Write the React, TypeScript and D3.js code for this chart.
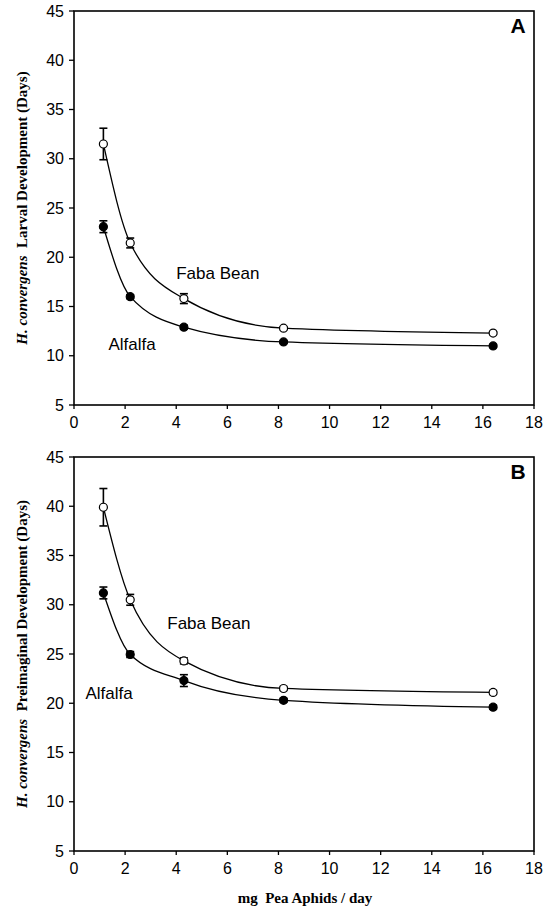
import React from 'react';
import * as d3 from 'd3';

// dose levels (mg pea aphids / day)
const doses = [1.15, 2.2, 4.3, 8.2, 16.4];

// panel A - larval development (days)
const larvalFaba = [31.5, 21.45, 15.8, 12.8, 12.3];
const larvalFabaErr = [1.6, 0.5, 0.5, 0.15, 0.15];
const larvalAlfalfa = [23.1, 16.0, 12.9, 11.4, 11.0];
const larvalAlfalfaErr = [0.6, 0.2, 0.2, 0.15, 0.15];

// panel B - preimaginal development (days)
const preFaba = [39.9, 30.5, 24.3, 21.5, 21.1];
const preFabaErr = [1.9, 0.55, 0.3, 0.2, 0.2];
const preAlfalfa = [31.2, 24.95, 22.3, 20.3, 19.6];
const preAlfalfaErr = [0.6, 0.3, 0.6, 0.2, 0.2];

const xTicks = [0, 2, 4, 6, 8, 10, 12, 14, 16, 18];
const yTicks = [5, 10, 15, 20, 25, 30, 35, 40, 45];

const LEFT = 74;
const RIGHT = 534;
const PANEL_H = 394;
const SANS = '"Liberation Sans", Arial, sans-serif';
const SERIF = '"Liberation Serif", "Times New Roman", serif';

type Series = { y: number[]; err: number[]; filled: boolean };

function Panel({ top, letter, title, series, fabaPos, alfPos }: {
    top: number; letter: string; title: string; series: Series[];
    fabaPos: [number, number]; alfPos: [number, number];
}) {
    const x = d3.scaleLinear().domain([0, 18]).range([LEFT, RIGHT]);
    const y = d3.scaleLinear().domain([5, 45]).range([top + PANEL_H, top]);

    const line = d3.line<number>()
        .x((d, i) => x(doses[i]))
        .y(d => y(d))
        .curve(d3.curveMonotoneX);

    return (
        <g>
            {series.map((s, k) => (
                <path key={'l' + k} d={line(s.y) || ''} fill="none" stroke="#000" strokeWidth={1.3} />
            ))}
            {series.map((s, k) => s.y.map((v, i) => {
                const cx = x(doses[i]);
                const y1 = y(v + s.err[i]);
                const y2 = y(v - s.err[i]);
                return (
                    <g key={'e' + k + '-' + i} stroke="#000" strokeWidth={1.6}>
                        <line x1={cx} x2={cx} y1={y1} y2={y2} />
                        <line x1={cx - 4} x2={cx + 4} y1={y1} y2={y1} />
                        <line x1={cx - 4} x2={cx + 4} y1={y2} y2={y2} />
                    </g>
                );
            }))}
            {series.map((s, k) => s.y.map((v, i) => (
                <circle key={'p' + k + '-' + i} cx={x(doses[i])} cy={y(v)} r={4}
                    fill={s.filled ? '#000' : '#fff'} stroke="#000" strokeWidth={1.2} />
            )))}

            <rect x={LEFT} y={top} width={RIGHT - LEFT} height={PANEL_H}
                fill="none" stroke="#000" strokeWidth={1.6} />

            {yTicks.map(t => (
                <g key={'yt' + t}>
                    <line x1={LEFT - 5} x2={LEFT} y1={y(t)} y2={y(t)} stroke="#000" strokeWidth={1.3} />
                    <text x={LEFT - 10} y={y(t)} dy="0.35em" textAnchor="end"
                        fontFamily={SANS} fontSize={16}>{t}</text>
                </g>
            ))}
            {xTicks.map(t => (
                <g key={'xt' + t}>
                    <line x1={x(t)} x2={x(t)} y1={top + PANEL_H} y2={top + PANEL_H + 4} stroke="#000" strokeWidth={1.3} />
                    <text x={x(t)} y={top + PANEL_H + 23} textAnchor="middle"
                        fontFamily={SANS} fontSize={16}>{t}</text>
                </g>
            ))}

            <text x={x(fabaPos[0])} y={y(fabaPos[1])} dy="0.35em" fontFamily={SANS} fontSize={17}>Faba Bean</text>
            <text x={x(alfPos[0])} y={y(alfPos[1])} dy="0.35em" fontFamily={SANS} fontSize={17}>Alfalfa</text>
            <text x={RIGHT - 16} y={top + 15} dy="0.35em" textAnchor="middle"
                fontFamily={SANS} fontSize={21} fontWeight="bold">{letter}</text>

            <text transform={`translate(27,${top + PANEL_H / 2}) rotate(-90)`} textAnchor="middle"
                fontFamily={SERIF} fontSize={15} fontWeight="bold">
                <tspan fontStyle="italic">H. convergens</tspan>
                <tspan>{'\u00a0\u00a0' + title}</tspan>
            </text>
        </g>
    );
}

export default function App() {
    return (
        <svg width={554} height={920} style={{ position: 'absolute', left: 0, top: 0, background: '#fff' }}>
            <rect width={554} height={920} fill="#fff" />
            <Panel top={11} letter="A" title="Larval Development (Days)"
                series={[
                    { y: larvalFaba, err: larvalFabaErr, filled: false },
                    { y: larvalAlfalfa, err: larvalAlfalfaErr, filled: true },
                ]}
                fabaPos={[4.0, 18.4]} alfPos={[1.35, 11.2]} />
            <Panel top={457} letter="B" title="Preimaginal Development (Days)"
                series={[
                    { y: preFaba, err: preFabaErr, filled: false },
                    { y: preAlfalfa, err: preAlfalfaErr, filled: true },
                ]}
                fabaPos={[3.65, 28.1]} alfPos={[0.45, 21.0]} />
            <text x={305} y={903} textAnchor="middle" fontFamily={SERIF} fontSize={15} fontWeight="bold">
                {'mg\u00a0\u00a0Pea Aphids / day'}
            </text>
        </svg>
    );
}
